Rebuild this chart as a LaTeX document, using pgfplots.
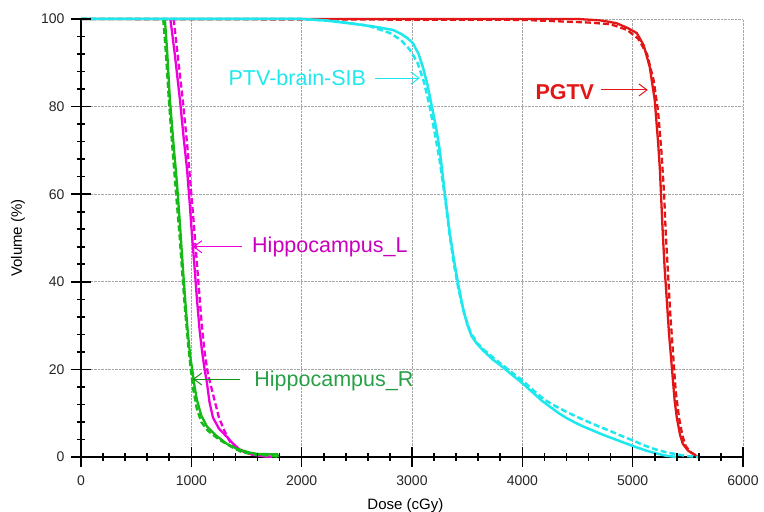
\documentclass[border=0pt]{standalone}
\usepackage{pgfplots}
\pgfplotsset{compat=1.18}
\usepackage{fontspec}
\setmainfont{Liberation Sans}
\usetikzlibrary{arrows.meta}

\definecolor{ptvcyan}{RGB}{30,232,238}
\definecolor{pgtvred}{RGB}{226,22,22}
\definecolor{hipL}{RGB}{238,0,220}
\definecolor{hipLtxt}{RGB}{200,0,190}
\definecolor{hipR}{RGB}{22,186,22}
\definecolor{hipRtxt}{RGB}{40,160,70}

\begin{document}
\begin{tikzpicture}
\begin{axis}[
  scale only axis,
  width=662pt, height=438pt,
  xmin=0, xmax=6000, ymin=0, ymax=100,
  xtick distance=1000, ytick distance=20,
  axis x line*=bottom, axis y line*=left,
  xtick pos=left, ytick pos=left,
  axis line style={-, line width=1.4pt, black},
  tick align=center,
  major tick length=18pt,
  tick style={draw=none},
  xmajorgrids=true, ymajorgrids=true,
  major grid style={densely dotted, gray!70, line width=0.8pt},
  /pgf/number format/assume math mode=true,
  /pgf/number format/1000 sep={},
  ticklabel style={font=\fontsize{14}{16}\selectfont, text=black!85},
  xticklabel style={yshift=-6pt},
  yticklabel style={xshift=-4pt},
  xlabel={Dose (cGy)},
  ylabel={Volume (\%)},
  label style={font=\fontsize{15}{17}\selectfont},
  xlabel style={at={(axis description cs:0.49,0)}, anchor=center, yshift=-49pt},
  ylabel style={at={(axis description cs:0,0.5)}, anchor=center, yshift=63pt},
  clip=false,
]
% PGTV
\addplot[pgtvred, line width=2.3pt] coordinates {
  (0,100) (4500,100) (4700,99.7) (4800,99.3) (4857,99) (4950,98) (5037,96.8)
  (5100,94) (5155,89) (5200,81.5) (5230,72) (5246,66) (5273,51) (5290,43)
  (5309,36) (5330,28) (5355,20.5) (5380,13) (5400,9) (5430,5) (5455,3)
  (5500,1.5) (5550,0.7) (5590,0)
};
\addplot[pgtvred, line width=2.3pt, dash pattern=on 6pt off 3pt] coordinates {
  (0,100) (4000,99.8) (4300,99.5) (4600,99.2) (4800,98.8) (4950,97.5)
  (5050,95.5) (5130,92) (5190,86) (5230,79) (5260,70) (5285,60) (5300,51)
  (5320,42) (5340,33) (5365,24) (5390,15) (5420,9) (5450,5) (5480,2.5)
  (5530,1) (5600,0)
};
% Hippocampus_L
\addplot[hipL, line width=2.3pt] coordinates {
  (810,100) (850,92) (897,81.5) (930,73) (960,66) (985,58) (1005,51)
  (1030,43) (1051,36) (1075,29) (1096,24.4) (1120,20) (1141,17) (1165,12.5)
  (1196,9) (1250,6.5) (1322,4.6) (1380,3) (1440,1.6) (1500,1) (1560,0.5)
  (1700,0)
};
\addplot[hipL, line width=2.3pt, dash pattern=on 6pt off 3pt] coordinates {
  (840,100) (880,91) (920,82) (960,72) (990,63) (1020,54) (1045,46)
  (1070,38) (1095,30) (1120,24) (1150,19) (1200,14) (1250,9) (1300,6)
  (1350,3.5) (1400,2.5) (1470,1.3) (1560,0.5) (1750,0)
};
% Hippocampus_R
\addplot[hipR, line width=2.3pt] coordinates {
  (760,100) (780,93) (806,81.5) (840,71) (870,62.5) (900,52) (924,43)
  (950,34) (970,28) (990,23) (1005,20.5) (1030,16) (1051,13) (1090,9.5)
  (1141,7) (1220,5) (1322,3) (1420,1.8) (1531,1) (1600,0.7) (1780,0.6)
  (1790,0)
};
\addplot[hipR, line width=2.3pt, dash pattern=on 6pt off 3pt] coordinates {
  (745,100) (770,92) (795,82) (830,70) (862,60) (895,50) (920,41) (945,33)
  (970,26) (995,20) (1020,15) (1050,11) (1090,8) (1150,6) (1250,4)
  (1350,2.5) (1450,1.2) (1550,0.6) (1700,0.3) (1800,0)
};
% PTV-brain-SIB
\addplot[ptvcyan, line width=2.5pt, dash pattern=on 6pt off 3pt] coordinates {
  (0,100) (2000,100) (2300,99.5) (2600,98.5) (2800,96.8) (2900,95.2)
  (2980,93) (3050,90) (3110,85.5) (3160,80) (3210,73.5) (3252,67.5)
  (3300,59) (3345,50) (3380,44) (3420,38.5) (3470,33) (3530,28.5)
  (3590,26) (3650,24.5) (3740,22.6) (3830,20.8) (3920,19) (4000,17.5)
  (4100,15.2) (4200,13.1) (4300,11.6) (4400,10.3) (4500,9.1) (4600,8)
  (4700,6.9) (4800,5.9) (4900,4.8) (5000,3.8) (5100,2.7) (5200,1.8)
  (5300,1.1) (5400,0.6) (5500,0.2) (5600,0)
};
\addplot[ptvcyan, line width=2.5pt] coordinates {
  (0,100) (2000,100) (2200,99.7) (2437,99) (2650,98.3) (2827,97.5)
  (2900,96.6) (2960,95.6) (3008,94.5) (3060,92) (3099,89) (3140,85)
  (3180,80) (3220,75) (3252,70) (3298,60) (3343,51) (3380,45) (3415,40)
  (3460,34.2) (3500,30.3) (3540,27.6) (3590,25.8) (3642,24.4) (3730,22.3)
  (3823,20.5) (3900,18.9) (3950,17.9) (4030,16.2) (4100,14.6) (4175,12.9)
  (4249,11.5) (4325,10.1) (4400,8.9) (4475,7.9) (4548,7) (4625,6.2)
  (4700,5.4) (4780,4.6) (4856,3.9) (4950,3) (5037,2.2) (5130,1.4)
  (5218,0.8) (5300,0.3) (5400,0)
};
% annotations
\node[ptvcyan, font=\fontsize{21.5}{24}\selectfont] at (axis cs:1961,86.5) {PTV-brain-SIB};
\draw[ptvcyan, line width=1pt, -{Straight Barb[length=8pt,width=12pt]}] (axis cs:2664,86.5) -- (axis cs:3071,86.5);
\node[pgtvred, font=\fontsize{21.5}{24}\selectfont\bfseries] at (axis cs:4385,83.3) {PGTV};
\draw[pgtvred, line width=1pt, -{Straight Barb[length=8pt,width=12pt]}] (axis cs:4711,83.8) -- (axis cs:5137,83.8);
\node[hipLtxt, font=\fontsize{21.5}{24}\selectfont] at (axis cs:2256,48) {Hippocampus\_L};
\draw[hipL, line width=1pt, -{Straight Barb[length=8pt,width=12pt]}] (axis cs:1459,48) -- (axis cs:1015,48);
\node[hipRtxt, font=\fontsize{21.5}{24}\selectfont] at (axis cs:2292,17.4) {Hippocampus\_R};
\draw[hipR!80!black, line width=1pt, -{Straight Barb[length=8pt,width=12pt]}] (axis cs:1440,17.8) -- (axis cs:1015,17.8);
\end{axis}
% tick marks crossing the axis lines (axis box is 662pt x 438pt at the origin)
\draw[black, line width=1.6pt]
  \foreach \i in {0,...,30} { ({\i*22.06667pt},-4pt) -- ++(0,8pt) }
  \foreach \i in {0,...,6} { ({\i*110.3333pt},-10pt) -- ++(0,20pt) }
  \foreach \j in {0,...,25} { (-4pt,{\j*17.52pt}) -- ++(8pt,0) }
  \foreach \j in {0,...,5} { (-10pt,{\j*87.6pt}) -- ++(20pt,0) };
\pgfresetboundingbox
\path (-81pt,-55pt) rectangle (683pt,457pt);
\end{tikzpicture}
\end{document}
